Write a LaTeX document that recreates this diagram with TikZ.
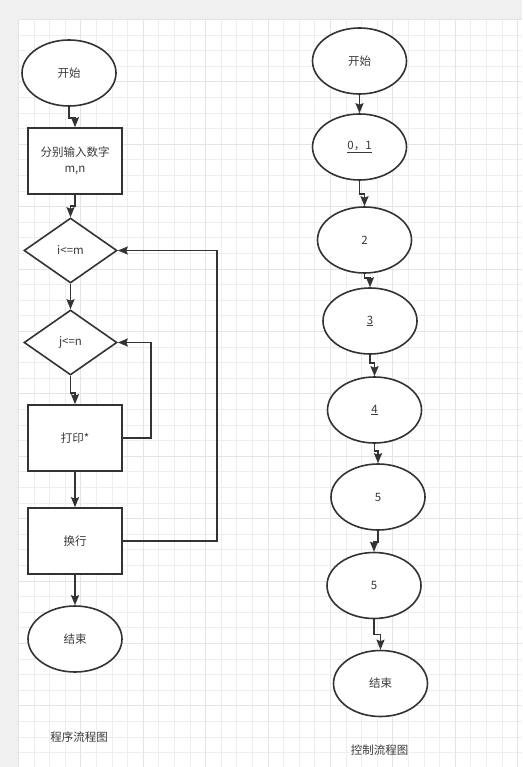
\documentclass[tikz,border=0pt]{standalone}
\usepackage{fontspec}
\setmainfont{Noto Sans CJK SC}
\usetikzlibrary{shapes.geometric,arrows.meta}
\definecolor{bandgray}{HTML}{F0F0F0}
\definecolor{minorgrid}{HTML}{EEEEEE}
\definecolor{majorgrid}{HTML}{E4E4E4}
\definecolor{ink}{HTML}{333333}
\definecolor{txt}{HTML}{3A3A3A}
\tikzset{
  shapeline/.style={draw=ink, line width=1.6pt, fill=white, text=txt,
    font=\fontsize{11.5}{16}\selectfont, inner sep=0pt, align=center},
  term/.style={shapeline, ellipse, minimum width=94pt, minimum height=66pt},
  proc/.style={shapeline, rectangle, minimum width=94pt, minimum height=66pt},
  dec/.style={shapeline, diamond, aspect=1.43, minimum width=93pt, minimum height=65pt},
  lbl/.style={text=txt, font=\fontsize{11.5}{16}\selectfont, inner sep=0pt},
  arr/.style={draw=ink, line width=1.6pt, -{Stealth[length=10pt,width=8pt,inset=1.5pt]}},
  loopline/.style={arr}
}
\begin{document}
\begin{tikzpicture}[x=1pt,y=-1pt]
\useasboundingbox (0,0) rectangle (522,767);
\fill[bandgray] (0,0) rectangle (522,767);
\fill[white] (18,19) rectangle (522,767);
% grid
\foreach \i in {0,...,32} {
  \pgfmathsetmacro\xx{round(18+15.6*\i)+0.5}
  \draw[minorgrid, line width=1pt] (\xx,19) -- (\xx,767);
}
\foreach \i in {0,...,48} {
  \pgfmathsetmacro\yy{round(19+15.6*\i)+0.5}
  \draw[minorgrid, line width=1pt] (18,\yy) -- (522,\yy);
}
\foreach \i in {0,4,...,32} {
  \pgfmathsetmacro\xx{round(18+15.6*\i)+0.5}
  \draw[majorgrid, line width=1pt] (\xx,19) -- (\xx,767);
}
\foreach \i in {0,4,...,48} {
  \pgfmathsetmacro\yy{round(19+15.6*\i)+0.5}
  \draw[majorgrid, line width=1pt] (18,\yy) -- (522,\yy);
}

% left flowchart
\node[term] (s1) at (69,73) {开始};
\node[proc] (r1) at (75,161) {分别输入数字\\m,n};
\node[dec] (d1) at (70.5,250.5) {i<=m};
\node[dec] (d2) at (70.5,342.5) {j<=n};
\node[proc] (p1) at (75,438) {打印*};
\node[proc] (p2) at (75,541) {换行};
\node[term] (e1) at (75,639) {结束};
\node[lbl] (t1) at (79,737) {程序流程图};

\draw[arr] (s1.south) -- ++(0,11) -| (r1.north);
\draw[arr] (r1.south) -- ++(0,11) -| (d1.north);
\draw[arr] (d1.south) -- (d2.north);
\draw[arr] (d2.south) -- ++(0,17) -| (p1.north);
\draw[arr] (p1.south) -- (p2.north);
\draw[arr] (p2.south) -- (e1.north);
\draw[loopline] (p1.east) -- ++(28,0) |- (d2.east);
\draw[loopline] (p2.east) -- ++(94,0) |- (d1.east);

% right flowchart
\node[term] (c0) at (359.5,61) {开始};
\node[term] (c1) at (359.5,147) {\underline{0，1}};
\node[term] (c2) at (364.5,240) {2};
\node[term] (c3) at (370,321) {\underline{3}};
\node[term] (c4) at (374.5,410) {\underline{4}};
\node[term] (c5) at (378,497) {5};
\node[term] (c6) at (374,585.5) {5};
\node[term] (c7) at (380.5,683.5) {结束};
\node[lbl] (t2) at (379.5,750) {控制流程图};

\draw[arr] (c0.south) -- (c1.north);
\draw[arr] (c1.south) -- ++(0,13) -| (c2.north);
\draw[arr] (c2.south) -- ++(0,4) -| (c3.north);
\draw[arr] (c3.south) -- ++(0,8) -| (c4.north);
\draw[arr] (c4.south) -- ++(0,7) -| (c5.north);
\draw[arr] (c5.south) -- ++(0,11) -| (c6.north);
\draw[arr] (c6.south) -- ++(0,15) -| (c7.north);
\end{tikzpicture}
\end{document}
